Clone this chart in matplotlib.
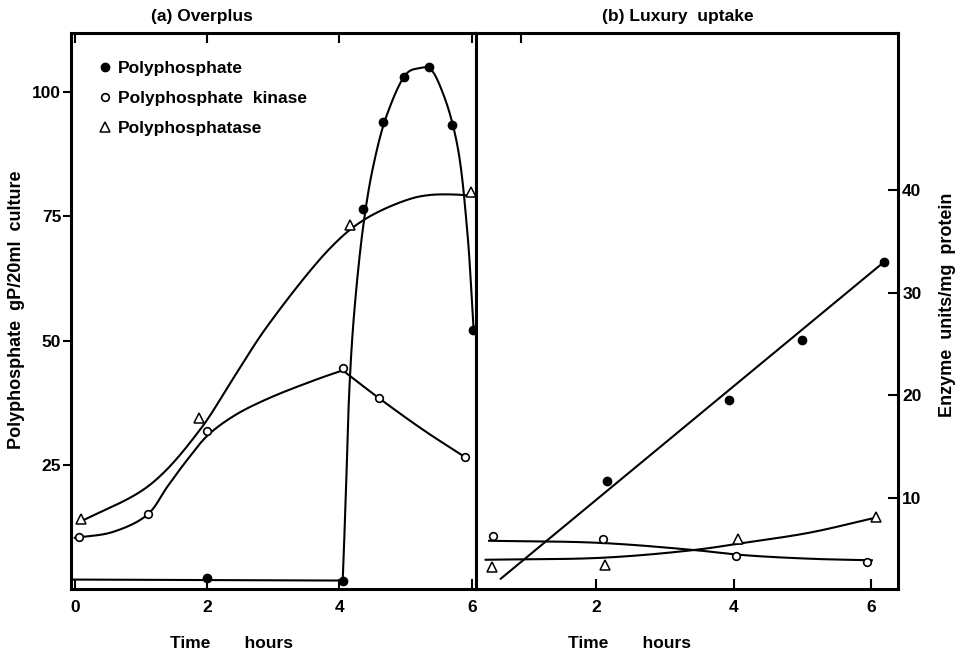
import numpy as np
import matplotlib
matplotlib.use("Agg")
import matplotlib.pyplot as plt

plt.rcParams['font.family'] = ['Liberation Sans', 'DejaVu Sans']
plt.rcParams['font.weight'] = 'bold'

# -------------------------------
# (a) Overplus - measured points
# -------------------------------
a_poly_t = [2.0, 4.05, 4.35, 4.66, 4.98, 5.36, 5.70, 6.02]
a_poly = [2.3, 1.7, 76.5, 93.9, 103.0, 105.0, 93.4, 52.1]
a_kin_t = [0.06, 1.11, 2.0, 4.05, 4.60, 5.90]
a_kin = [10.5, 15.1, 31.8, 44.4, 38.5, 26.6]
a_pase_t = [0.09, 1.88, 4.16, 5.99]
a_pase = [14.1, 34.5, 73.2, 80.0]

# hand drawn curves of panel (a)
a_poly_flat_t = [-0.06, 4.05]
a_poly_flat = [1.9, 1.7]
a_poly_curve_t = [4.05, 4.06, 4.10, 4.15, 4.22, 4.36, 4.51, 4.72, 5.02, 5.20, 5.37, 5.57, 5.78, 5.93, 6.03]
a_poly_curve = [1.7, 5.0, 20.0, 40.0, 55.0, 73.0, 85.0, 95.5, 103.8, 104.8, 104.7, 99.6, 89.5, 72.5, 52.0]
a_kin_rise_t = [0.0, 0.58, 1.11, 1.40, 1.70, 2.0, 2.4, 2.9, 3.66, 4.05]
a_kin_rise = [10.3, 11.5, 15.1, 20.6, 26.0, 30.8, 34.8, 38.2, 42.2, 44.0]
a_kin_fall_t = [4.05, 4.60, 5.27, 5.88]
a_kin_fall = [44.0, 38.4, 32.0, 26.7]
a_pase_curve_t = [0.05, 1.14, 1.89, 2.4, 2.9, 3.86, 4.36, 5.02, 5.37, 5.87, 6.03]
a_pase_curve = [13.3, 21.0, 32.0, 42.5, 52.7, 68.6, 74.2, 78.3, 79.3, 79.3, 79.0]

# -------------------------------
# (b) Luxury uptake - measured points
# -------------------------------
b_poly_t = [2.15, 3.93, 4.99, 6.19]
b_poly = [11.6, 19.5, 25.4, 33.0]
b_kin_t = [0.50, 2.10, 4.04, 5.94]
b_kin = [6.3, 6.0, 4.3, 3.7]
b_pase_t = [0.48, 2.12, 4.06, 6.07]
b_pase = [3.2, 3.4, 6.0, 8.1]

# drawn lines of panel (b)
b_line_t = [0.61, 6.19]
b_line = [2.1, 33.0]
b_kin_curve_t = [0.44, 2.04, 3.42, 4.15, 5.11, 6.01]
b_kin_curve = [5.8, 5.6, 4.9, 4.4, 4.05, 3.9]
b_pase_curve_t = [0.39, 2.10, 3.42, 4.15, 5.11, 6.06]
b_pase_curve = [3.95, 4.15, 4.9, 5.6, 6.6, 8.05]


def smooth(xs, ys, scale, n=30):
    # centripetal Catmull-Rom through the read-off knots
    p = np.column_stack([xs, ys]).astype(float)
    p = np.vstack([2 * p[0] - p[1], p, 2 * p[-1] - p[-2]])
    s = p / np.array(scale)
    out = []
    for i in range(1, len(p) - 2):
        P0, P1, P2, P3 = p[i - 1:i + 3]
        d = np.linalg.norm(np.diff(s[i - 1:i + 3], axis=0), axis=1) ** 0.5
        d = np.maximum(d, 1e-6)
        t0, t1 = 0.0, d[0]
        t2 = t1 + d[1]
        t3 = t2 + d[2]
        t = np.linspace(t1, t2, n)[:, None]
        A1 = (t1 - t) / (t1 - t0) * P0 + (t - t0) / (t1 - t0) * P1
        A2 = (t2 - t) / (t2 - t1) * P1 + (t - t1) / (t2 - t1) * P2
        A3 = (t3 - t) / (t3 - t2) * P2 + (t - t2) / (t3 - t2) * P3
        B1 = (t2 - t) / (t2 - t0) * A1 + (t - t0) / (t2 - t0) * A2
        B2 = (t3 - t) / (t3 - t1) * A2 + (t - t1) / (t3 - t1) * A3
        C = (t2 - t) / (t2 - t1) * B1 + (t - t1) / (t2 - t1) * B2
        out.append(C if i == 1 else C[1:])
    c = np.vstack(out)
    return c[:, 0], c[:, 1]


W, H = 958, 655
fig = plt.figure(figsize=(W / 100, H / 100), dpi=100)
ax1 = fig.add_axes([71 / W, 1 - 589 / H, 405 / W, 556 / H])
ax2 = fig.add_axes([476 / W, 1 - 589 / H, 422 / W, 556 / H])

lw = 1.5
fill_kw = dict(marker='o', ms=6, color='black', ls='none')
open_kw = dict(marker='o', ms=5.5, mfc='white', mec='black', mew=1.2, ls='none')
tri_kw = dict(marker='^', ms=6.5, mfc='white', mec='black', mew=1.1, ls='none')
fs = 12.5

# ---- panel (a)
ax1.plot(a_poly_flat_t, a_poly_flat, color='black', lw=lw)
for xs, ys in [(a_poly_curve_t, a_poly_curve), (a_kin_rise_t, a_kin_rise),
               (a_kin_fall_t, a_kin_fall), (a_pase_curve_t, a_pase_curve)]:
    cx, cy = smooth(xs, ys, (6, 110))
    ax1.plot(cx, cy, color='black', lw=lw)
h1, = ax1.plot(a_poly_t, a_poly, label='Polyphosphate', **fill_kw)
h2, = ax1.plot(a_kin_t, a_kin, label='Polyphosphate  kinase', **open_kw)
h3, = ax1.plot(a_pase_t, a_pase, label='Polyphosphatase', **tri_kw)

ax1.set_xlim(-0.057, 6.065)
ax1.set_ylim(0, 111.9)
ax1.set_xticks([0, 2, 4, 6])
ax1.set_yticks([25, 50, 75, 100])
ax1.tick_params(axis='x', direction='in', top=True, length=7, width=1.5,
                labelsize=fs, pad=8)
ax1.tick_params(axis='y', direction='out', length=6, width=1.5,
                labelsize=fs, pad=1)
ax1.legend(handles=[h1, h2, h3], loc='upper left', bbox_to_anchor=(0.072, 0.95),
           frameon=False, fontsize=fs, handlelength=0.6, handletextpad=0.4,
           labelspacing=0.85, borderpad=0, borderaxespad=0)

# ---- panel (b)
ax2.plot(b_line_t, b_line, color='black', lw=lw)
for xs, ys in [(b_kin_curve_t, b_kin_curve), (b_pase_curve_t, b_pase_curve)]:
    cx, cy = smooth(xs, ys, (6, 55))
    ax2.plot(cx, cy, color='black', lw=lw)
ax2.plot(b_poly_t, b_poly, **fill_kw)
ax2.plot(b_kin_t, b_kin, **open_kw)
ax2.plot(b_pase_t, b_pase, **tri_kw)

ax2.set_xlim(0.25, 6.39)
ax2.set_ylim(1.1, 55.3)
ax2.set_xticks([2, 4, 6])
ax2.set_xticks([0.9], minor=True)
ax2.set_yticks([10, 20, 30, 40])
ax2.yaxis.tick_right()
ax2.tick_params(axis='x', direction='in', length=7, width=1.5, labelsize=fs, pad=8)
ax2.tick_params(axis='x', which='minor', direction='in', top=True, bottom=False,
                length=7, width=1.5)
ax2.tick_params(axis='y', direction='in', length=7, width=1.5, labelsize=fs, pad=3)

for ax in (ax1, ax2):
    for sp in ax.spines.values():
        sp.set_linewidth(2.2)

# ---- texts
fig.text(202 / W, 1 - 17 / H, '(a) Overplus', ha='center', va='center', fontsize=fs)
fig.text(678 / W, 1 - 17 / H, '(b) Luxury  uptake', ha='center', va='center', fontsize=fs)
fig.text(231 / W, 1 - 644 / H, 'Time       hours', ha='center', va='center', fontsize=fs)
fig.text(629 / W, 1 - 644 / H, 'Time       hours', ha='center', va='center', fontsize=fs)
fig.text(17 / W, 1 - 310 / H, 'Polyphosphate  gP/20ml  culture', rotation=90,
         ha='center', va='center', fontsize=13)
fig.text(947 / W, 1 - 305 / H, 'Enzyme  units/mg  protein', rotation=90,
         ha='center', va='center', fontsize=13)

fig.savefig('out.png', dpi=100)
